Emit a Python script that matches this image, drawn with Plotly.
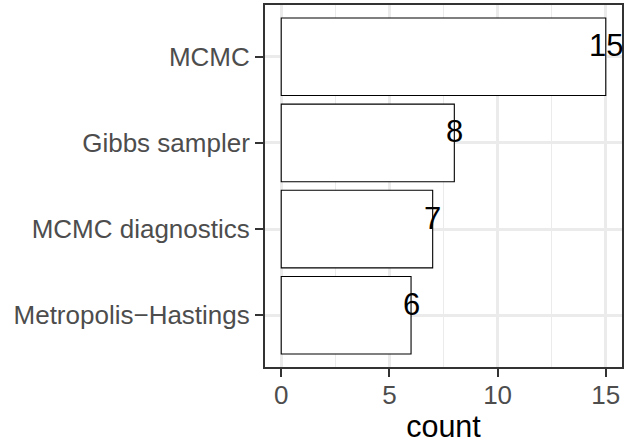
import plotly.graph_objects as go

categories = ["Metropolis\u2212Hastings", "MCMC diagnostics", "Gibbs sampler", "MCMC"]
counts = [6, 7, 8, 15]
x_ticks = [0, 5, 10, 15]

FONT = "Liberation Sans, Arial, sans-serif"

fig = go.Figure()
fig.add_trace(go.Bar(
    x=counts, y=categories, orientation="h", width=0.9,
    marker=dict(color="white", line=dict(color="black", width=1.1)),
    hoverinfo="skip", showlegend=False,
))
for c, cat in zip(counts, categories):
    fig.add_annotation(
        x=c, y=cat, text=str(c), showarrow=False, yshift=11,
        xanchor="center", yanchor="middle",
        font=dict(family=FONT, size=31, color="black"),
    )

fig.update_layout(
    width=626, height=444,
    margin=dict(l=265, r=2, t=5, b=77),
    paper_bgcolor="white", plot_bgcolor="white",
    font=dict(family=FONT),
    xaxis=dict(
        range=[-0.75, 15.75], tickvals=x_ticks, ticktext=[str(v) for v in x_ticks],
        showgrid=True, gridcolor="#EBEBEB", gridwidth=2.5,
        minor=dict(dtick=2.5, tick0=0, showgrid=True, gridcolor="#EBEBEB", gridwidth=1.3, ticks=""),
        zeroline=False,
        ticks="outside", ticklen=8, tickwidth=2, tickcolor="#333333",
        ticklabelstandoff=-4,
        tickfont=dict(family=FONT, size=26, color="#4D4D4D"),
        title=dict(text="count", font=dict(family=FONT, size=30.5, color="black"), standoff=6),
        showline=True, linecolor="#333333", linewidth=2, mirror=True,
    ),
    yaxis=dict(
        type="category", categoryorder="array", categoryarray=categories,
        range=[-0.6, 3.6],
        showgrid=True, gridcolor="#EBEBEB", gridwidth=2.5,
        zeroline=False,
        ticks="outside", ticklen=8, tickwidth=2, tickcolor="#333333",
        tickfont=dict(family=FONT, size=26, color="#4D4D4D"),
        showline=True, linecolor="#333333", linewidth=2, mirror=True,
    ),
)

fig.write_html(
    "out.html",
    config={"displayModeBar": False},
    post_script="document.body.style.margin='0';document.body.style.overflow='hidden';",
)
